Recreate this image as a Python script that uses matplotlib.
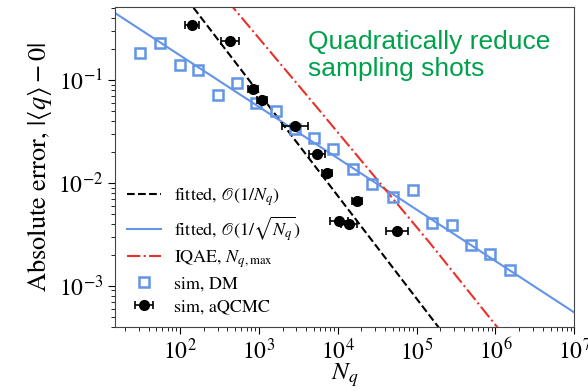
import matplotlib
matplotlib.use("Agg")
import matplotlib.pyplot as plt

# sim, DM (hollow squares)
dm_n = [31.0, 55.7, 100, 171, 306, 533, 920, 1650, 2880, 5020, 8810, 15500,
        27100, 50000, 89700, 158000, 281000, 489000, 859000, 1.51e6]
dm_err = [0.183, 0.229, 0.140, 0.125, 0.0714, 0.0942, 0.0593, 0.0502, 0.0334,
          0.0271, 0.0212, 0.0138, 0.00973, 0.00722, 0.00851, 0.00411, 0.00388,
          0.00248, 0.00203, 0.00142]

# sim, aQCMC (black dots with horizontal error bars)
aq_n = [141, 431, 837, 1090, 2880, 5520, 7270, 10500, 14100, 17800, 56200]
aq_err = [0.343, 0.241, 0.0812, 0.0639, 0.0357, 0.0189, 0.0124, 0.00428,
          0.00403, 0.0067, 0.00342]
aq_xlo = [26, 103, 114, 148, 910, 1150, 990, 2420, 2940, 2420, 15100]
aq_xhi = [32, 135, 131, 171, 1330, 1450, 1140, 3150, 3710, 2790, 20600]

# fitted lines, end points
fit1_n = [10, 1e7]
fit1_err = [7.5, 7.5e-6]
fit2_n = [10, 1e7]
fit2_err = [0.55, 5.5e-4]

# IQAE N_q,max curve
iqae_n = [400, 471, 5160, 149000, 1.045e6, 1.3e6]
iqae_err = [0.593, 0.509, 0.0571, 0.00258, 3.99e-4, 3.26e-4]

plt.rcParams['font.family'] = ['STIXGeneral', 'DejaVu Sans']
plt.rcParams['mathtext.fontset'] = 'stix'

blue = '#6394e6'

fig = plt.figure(figsize=(5.88, 3.91), dpi=100)
ax = fig.add_axes([0.1956, 0.1645, 0.7811, 0.8168])

ax.plot(fit1_n, fit1_err, '--', color='black', lw=1.5,
        label=r'fitted, $\mathscr{O}(1/N_q)$')
ax.plot(fit2_n, fit2_err, '-', color=blue, lw=1.5,
        label=r'fitted, $\mathscr{O}(1/\sqrt{N_q})$')
ax.plot(iqae_n, iqae_err, '-.', color='#e8312a', lw=1.5,
        label=r'IQAE, $N_{q,\mathrm{max}}$')
ax.plot(dm_n, dm_err, 's', mfc='none', mec=blue, ms=6.5, mew=1.8,
        label='sim, DM')
ax.errorbar(aq_n, aq_err, xerr=[aq_xlo, aq_xhi], fmt='o', color='black',
            ms=7, elinewidth=1.2, capsize=3, capthick=1.2,
            label='sim, aQCMC')

ax.set_xscale('log')
ax.set_yscale('log')
ax.set_xlim(15.0, 1e7)
ax.set_ylim(4.0e-4, 0.51)

ax.set_xlabel(r'$N_q$', fontsize=18, labelpad=-2)
ax.set_ylabel(r'Absolute error, $|\langle q\rangle - 0|$', fontsize=19, labelpad=3)
ax.tick_params(axis='both', which='major', labelsize=17, length=5, direction='out')
ax.tick_params(axis='both', which='minor', length=3, direction='out')
for s in ax.spines.values():
    s.set_color('#444444')

ax.legend(loc='lower left', frameon=False, fontsize=13, handlelength=1.9,
          labelspacing=0.32, borderaxespad=0.25, handletextpad=0.7)

fig.text(0.524, 0.924, 'Quadratically reduce\nsampling shots', color='#00a14b',
         fontsize=19, family='Liberation Sans', va='top', ha='left',
         linespacing=1.15)

fig.savefig('out.png', dpi=100)
